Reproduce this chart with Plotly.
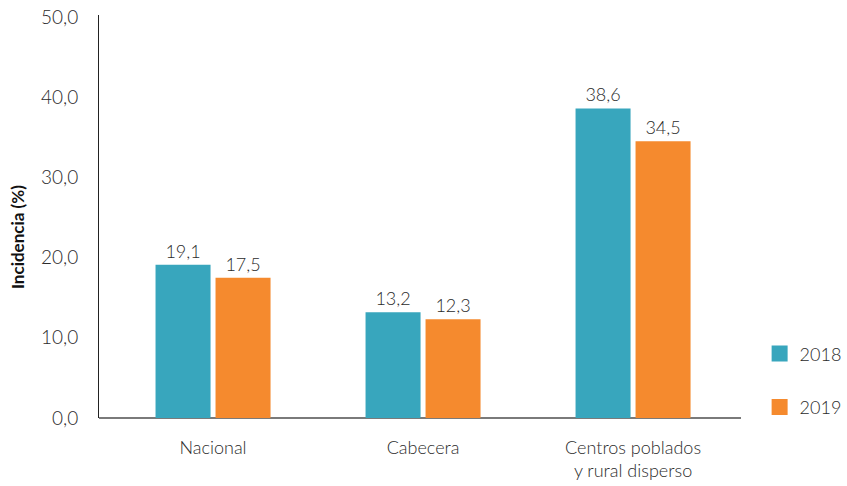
import plotly.graph_objects as go

categories = ["Nacional", "Cabecera", "Centros poblados<br>y rural disperso"]
years = ["2018", "2019"]
values_2018 = [19.1, 13.2, 38.6]
values_2019 = [17.5, 12.3, 34.5]
colors = {"2018": "#38A6BD", "2019": "#F58A2E"}
y_ticks = [0, 10, 20, 30, 40, 50]
y_title = "Incidencia (%)"

FONT = "Lato, 'Open Sans', sans-serif"
TEXT_COLOR = "#2b2b2b"

fig = go.Figure()
for yr, vals in zip(years, [values_2018, values_2019]):
    fig.add_trace(go.Bar(
        x=categories, y=vals, name=yr,
        marker=dict(color=colors[yr], line=dict(width=0)),
        texttemplate="%{y:.1f}", textposition="outside",
        textfont=dict(size=18, color=TEXT_COLOR, family=FONT, weight=300),
        cliponaxis=False, showlegend=False,
    ))
# legend proxies
for yr in years:
    fig.add_trace(go.Scatter(
        x=[None], y=[None], mode="markers", name=yr,
        marker=dict(symbol="square", size=16, color=colors[yr]),
        legendgroup=yr, showlegend=True,
    ))

fig.add_annotation(
    text="<b>" + y_title + "</b>", textangle=-90,
    xref="paper", yref="paper", x=-0.1277, y=0.449,
    xanchor="center", yanchor="middle", showarrow=False,
    font=dict(size=17, color="#111", family=FONT),
)

fig.update_layout(
    width=847, height=486,
    margin=dict(l=99, r=106, t=15, b=68, autoexpand=False),
    paper_bgcolor="white", plot_bgcolor="white",
    separators=",.",
    barmode="group", bargap=0.4286, bargroupgap=0.083,
    font=dict(family=FONT, size=18, color=TEXT_COLOR, weight=300),
    legend=dict(x=1.029, xanchor="left", y=0.205, yanchor="top",
                font=dict(size=18, color=TEXT_COLOR, weight=300),
                itemsizing="trace", tracegroupgap=27,
                traceorder="grouped", bgcolor="rgba(0,0,0,0)"),
    xaxis=dict(range=[-0.543, 2.514], showgrid=False, showline=False,
               zeroline=False, ticks="", ticklabelstandoff=17,
               tickfont=dict(size=18, color=TEXT_COLOR, weight=300)),
    yaxis=dict(range=[0, 50.25], tickvals=y_ticks, tickformat=".1f",
               showgrid=False, showline=True, linecolor="#222", linewidth=1,
               zeroline=True, zerolinecolor="#7a7a7a", zerolinewidth=2,
               ticks="", ticklabelstandoff=16,
               tickfont=dict(size=19, color=TEXT_COLOR, weight=300)),
)
fig.write_html("out.html")
